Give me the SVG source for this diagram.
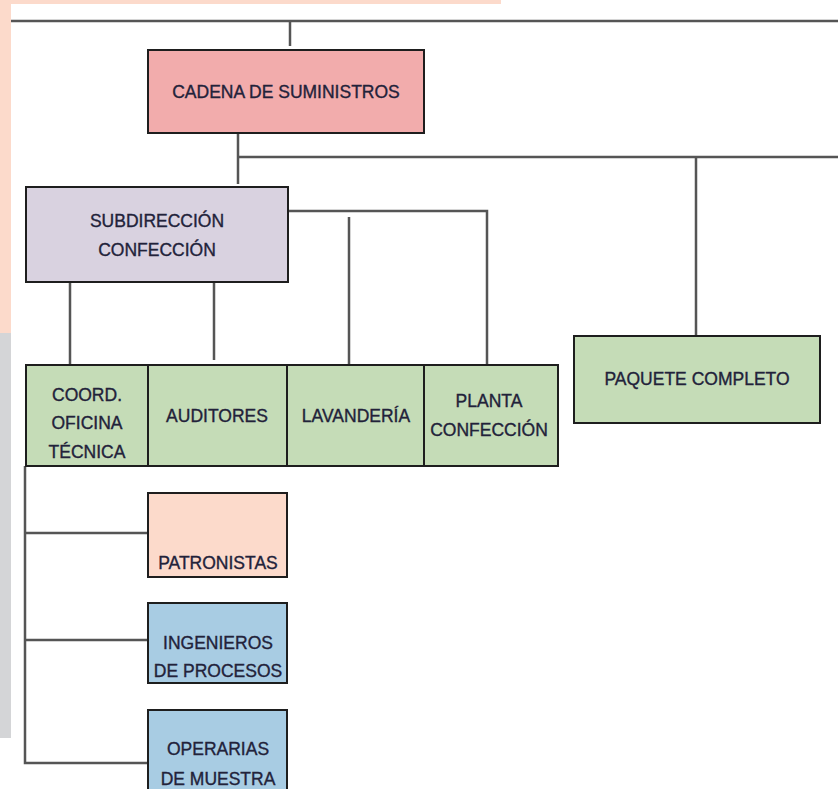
<svg xmlns="http://www.w3.org/2000/svg" width="838" height="789" viewBox="0 0 838 789">
<style>
.box{stroke:#1e1e1e;stroke-width:2}
.t{font-family:"Liberation Sans",Arial,sans-serif;font-size:17.5px;fill:#22223a;stroke:#22223a;stroke-width:0.35;text-anchor:middle}
.c{fill:none;stroke:#555;stroke-width:2.5}
</style>
<rect x="0" y="0" width="838" height="789" fill="#fff"/>
<g id="background">
<rect x="0" y="0" width="501" height="4" fill="#fcdacb"/>
<rect x="0" y="0" width="11" height="333" fill="#fcdacb"/>
<rect x="0" y="333" width="11" height="405" fill="#d4d5d7"/>
</g>
<g id="connectors">
<path class="c" d="M11 21H838" stroke="#2a2a2a"/>
<path class="c" d="M290 21V46"/>
<path class="c" d="M238 133V184M238 157H838M696 157V336"/>
<path class="c" d="M288 211H487V365M349 217V365"/>
<path class="c" d="M70 282V365M214 282V360"/>
<path class="c" d="M25 466V763H148M25 533H148M25 640H148"/>
</g>
<g id="cadena"><rect class="box" x="148" y="50" width="276" height="83" fill="#f2acac"/><text class="t" x="286" y="98">CADENA DE SUMINISTROS</text></g>
<g id="subdireccion"><rect class="box" x="26" y="187" width="262" height="95" fill="#d9d2e0"/><text class="t" x="157" y="227">SUBDIRECCIÓN</text><text class="t" x="157" y="256">CONFECCIÓN</text></g>
<g id="coord"><rect class="box" x="26" y="365" width="122" height="101" fill="#c5dcb7"/><text class="t" x="87" y="401">COORD.</text><text class="t" x="87" y="429">OFICINA</text><text class="t" x="87" y="458">TÉCNICA</text></g>
<g id="auditores"><rect class="box" x="148" y="365" width="139" height="101" fill="#c5dcb7"/><text class="t" x="217" y="422">AUDITORES</text></g>
<g id="lavanderia"><rect class="box" x="287" y="365" width="137" height="101" fill="#c5dcb7"/><text class="t" x="356" y="422">LAVANDERÍA</text></g>
<g id="planta"><rect class="box" x="424" y="365" width="134" height="101" fill="#c5dcb7"/><text class="t" x="489" y="407">PLANTA</text><text class="t" x="489" y="436">CONFECCIÓN</text></g>
<g id="paquete"><rect class="box" x="574" y="336" width="246" height="87" fill="#c5dcb7"/><text class="t" x="697" y="385">PAQUETE COMPLETO</text></g>
<g id="patronistas"><rect class="box" x="148" y="493" width="139" height="84" fill="#fcdacb"/><text class="t" x="218" y="569">PATRONISTAS</text></g>
<g id="ingenieros"><rect class="box" x="148" y="603" width="139" height="80" fill="#a8cce3"/><text class="t" x="218" y="649">INGENIEROS</text><text class="t" x="218" y="677">DE PROCESOS</text></g>
<g id="operarias"><rect class="box" x="148" y="710" width="139" height="90" fill="#a8cce3"/><text class="t" x="218" y="755">OPERARIAS</text><text class="t" x="218" y="785">DE MUESTRA</text></g>
</svg>
